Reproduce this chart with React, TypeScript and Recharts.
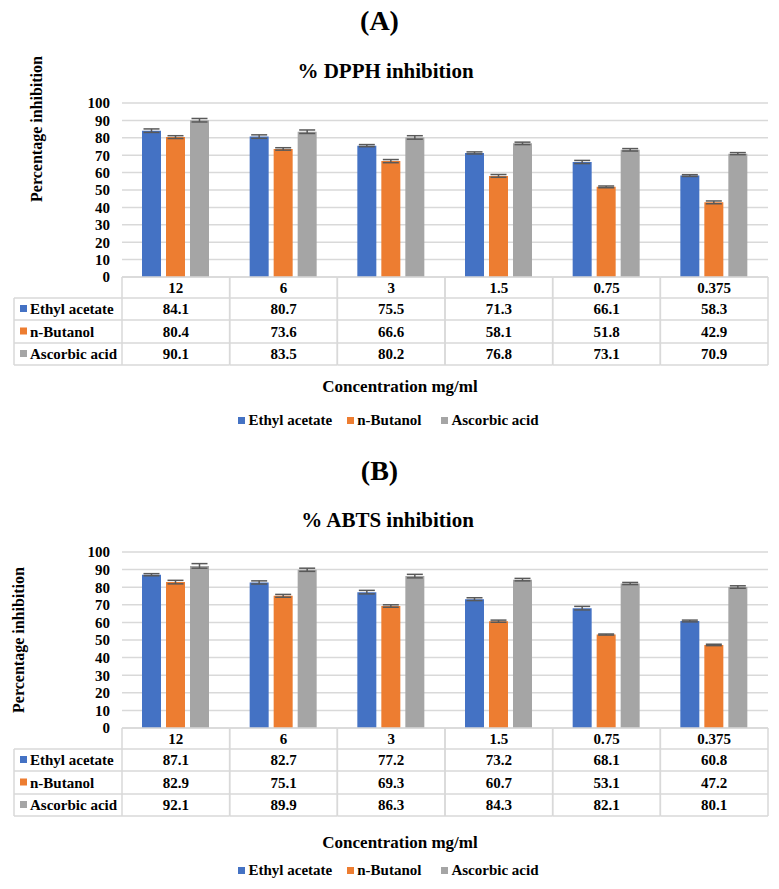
import { BarChart, Bar, XAxis, YAxis, CartesianGrid, Legend, ErrorBar } from "recharts";

const concentrations = ["12", "6", "3", "1.5", "0.75", "0.375"];
const seriesNames = ["Ethyl acetate", "n-Butanol", "Ascorbic acid"];
const seriesColors = ["#4472C4", "#ED7D31", "#A5A5A5"];
const yTicks = [0, 10, 20, 30, 40, 50, 60, 70, 80, 90, 100];

// % DPPH inhibition
const dpphEthyl = [84.1, 80.7, 75.5, 71.3, 66.1, 58.3];
const dpphButanol = [80.4, 73.6, 66.6, 58.1, 51.8, 42.9];
const dpphAscorbic = [90.1, 83.5, 80.2, 76.8, 73.1, 70.9];
const dpphEthylErr = [1.0, 1.0, 0.6, 0.6, 0.9, 0.5];
const dpphButanolErr = [0.8, 0.7, 0.9, 0.8, 0.5, 0.8];
const dpphAscorbicErr = [1.0, 1.0, 1.0, 0.7, 0.7, 0.6];

// % ABTS inhibition
const abtsEthyl = [87.1, 82.7, 77.2, 73.2, 68.1, 60.8];
const abtsButanol = [82.9, 75.1, 69.3, 60.7, 53.1, 47.2];
const abtsAscorbic = [92.1, 89.9, 86.3, 84.3, 82.1, 80.1];
const abtsEthylErr = [0.6, 0.9, 1.0, 0.8, 1.0, 0.5];
const abtsButanolErr = [1.0, 0.8, 0.7, 0.6, 0.3, 0.4];
const abtsAscorbicErr = [1.3, 0.9, 1.0, 0.7, 0.6, 0.7];

const FONT = "Liberation Serif";
const W = 779;
const TABLE_LEFT = 14;
const Y_AXIS_W = 108;
const MARGIN_RIGHT = 11;
const COL_W = (W - TABLE_LEFT - Y_AXIS_W - MARGIN_RIGHT) / concentrations.length;
const ROWS = [0, 21, 43, 66, 88];
const LINE = "#D9D9D9";

function buildData(a: number[], b: number[], c: number[], ea: number[], eb: number[], ec: number[]) {
    return concentrations.map((name, i) => ({
        name,
        ethyl: a[i],
        butanol: b[i],
        ascorbic: c[i],
        ethylErr: ea[i],
        butanolErr: eb[i],
        ascorbicErr: ec[i],
    }));
}

const textProps = { fontFamily: FONT, fontWeight: 700, fontSize: 15, fill: "#000" };

// the x axis tick draws one column of the data table under each category
function makeTableTick(values: number[][]) {
    return (props: any) => {
        const { x, y, index, payload } = props;
        const left = x - COL_W / 2;
        const right = x + COL_W / 2;
        const bottom = y + ROWS[4];
        return (
            <g>
                {ROWS.map((r) => (
                    <line key={r} x1={left} x2={right} y1={y + r} y2={y + r} stroke={LINE} strokeWidth={1.5} />
                ))}
                <line x1={left} x2={left} y1={y} y2={bottom} stroke={LINE} strokeWidth={1.5} />
                <line x1={right} x2={right} y1={y} y2={bottom} stroke={LINE} strokeWidth={1.5} />
                <text x={x} y={y + (ROWS[0] + ROWS[1]) / 2} textAnchor="middle" dominantBaseline="central" {...textProps}>
                    {payload.value}
                </text>
                {values.map((vals, k) => (
                    <text key={k} x={x} y={y + (ROWS[k + 1] + ROWS[k + 2]) / 2} textAnchor="middle" dominantBaseline="central" {...textProps}>
                        {vals[index].toFixed(1)}
                    </text>
                ))}
                {index === 0 && (
                    <g>
                        {ROWS.slice(1).map((r) => (
                            <line key={r} x1={TABLE_LEFT} x2={left} y1={y + r} y2={y + r} stroke={LINE} strokeWidth={1.5} />
                        ))}
                        <line x1={TABLE_LEFT} x2={TABLE_LEFT} y1={y + ROWS[1]} y2={bottom} stroke={LINE} strokeWidth={1.5} />
                        {seriesNames.map((s, k) => {
                            const cy = y + (ROWS[k + 1] + ROWS[k + 2]) / 2;
                            return (
                                <g key={s}>
                                    <rect x={20} y={cy - 4} width={7} height={7} fill={seriesColors[k]} />
                                    <text x={30} y={cy} dominantBaseline="central" {...textProps}>
                                        {s}
                                    </text>
                                </g>
                            );
                        })}
                    </g>
                )}
            </g>
        );
    };
}

function LegendBlock({ gap }: { gap: number }) {
    const itemGaps = [15, 20, 0];
    return (
        <div style={{ width: W, fontFamily: FONT, fontWeight: 700, color: "#000" }}>
            <div style={{ height: 22, lineHeight: "22px", fontSize: 17, textAlign: "center", paddingLeft: 21 }}>
                Concentration mg/ml
            </div>
            <div style={{ marginTop: gap, height: 20, lineHeight: "20px", fontSize: 15, display: "flex", justifyContent: "center", paddingRight: 2 }}>
                {seriesNames.map((s, k) => (
                    <span key={s} style={{ display: "flex", alignItems: "center", marginRight: itemGaps[k] }}>
                        <span style={{ width: 7, height: 7, background: seriesColors[k], marginRight: 3, display: "inline-block" }} />
                        {s}
                    </span>
                ))}
            </div>
        </div>
    );
}

function Panel(props: {
    top: number;
    height: number;
    marginTop: number;
    plotH: number;
    data: any[];
    values: number[][];
    labelX: number;
    labelY: number;
    legendTop: number;
    legendGap: number;
}) {
    const { top, height, marginTop, plotH, data, values, labelX, labelY, legendTop, legendGap } = props;
    const marginBottom = height - marginTop - plotH - ROWS[4];
    return (
        <div style={{ position: "absolute", left: 0, top }}>
            <BarChart
                width={W}
                height={height}
                data={data}
                margin={{ top: marginTop, right: MARGIN_RIGHT, left: TABLE_LEFT, bottom: marginBottom }}
                barSize={19}
                barGap={5}
            >
                <CartesianGrid vertical={false} stroke={LINE} strokeWidth={1.5} />
                <XAxis
                    dataKey="name"
                    axisLine={false}
                    tickLine={false}
                    tickSize={0}
                    tickMargin={0}
                    height={ROWS[4]}
                    interval={0}
                    tick={makeTableTick(values)}
                />
                <YAxis
                    width={Y_AXIS_W}
                    domain={[0, 100]}
                    ticks={yTicks}
                    interval={0}
                    axisLine={false}
                    tickLine={false}
                    tickMargin={6}
                    tick={{ fill: "#000", fontSize: 15, fontWeight: 700, fontFamily: FONT }}
                    label={{
                        content: () => (
                            <text
                                x={labelX}
                                y={labelY}
                                transform={`rotate(-90 ${labelX} ${labelY})`}
                                textAnchor="middle"
                                dominantBaseline="central"
                                fontFamily={FONT}
                                fontWeight={700}
                                fontSize={16}
                                fill="#000"
                            >
                                Percentage inhibition
                            </text>
                        ),
                    }}
                />
                <Legend
                    verticalAlign="middle"
                    align="center"
                    layout="horizontal"
                    wrapperStyle={{ top: legendTop, left: 0, width: W }}
                    content={() => <LegendBlock gap={legendGap} />}
                />
                <Bar dataKey="ethyl" name={seriesNames[0]} fill={seriesColors[0]} isAnimationActive={false}>
                    <ErrorBar dataKey="ethylErr" width={8} stroke="#595959" strokeWidth={1.5} direction="y" />
                </Bar>
                <Bar dataKey="butanol" name={seriesNames[1]} fill={seriesColors[1]} isAnimationActive={false}>
                    <ErrorBar dataKey="butanolErr" width={8} stroke="#595959" strokeWidth={1.5} direction="y" />
                </Bar>
                <Bar dataKey="ascorbic" name={seriesNames[2]} fill={seriesColors[2]} isAnimationActive={false}>
                    <ErrorBar dataKey="ascorbicErr" width={8} stroke="#595959" strokeWidth={1.5} direction="y" />
                </Bar>
            </BarChart>
        </div>
    );
}

function Title({ top, text, size, height, shift }: { top: number; text: string; size: number; height: number; shift: number }) {
    return (
        <div
            style={{
                position: "absolute",
                left: shift,
                top,
                width: W,
                height,
                lineHeight: `${height}px`,
                textAlign: "center",
                fontFamily: FONT,
                fontWeight: 700,
                fontSize: size,
                color: "#000",
            }}
        >
            {text}
        </div>
    );
}

export default function App() {
    const dpphData = buildData(dpphEthyl, dpphButanol, dpphAscorbic, dpphEthylErr, dpphButanolErr, dpphAscorbicErr);
    const abtsData = buildData(abtsEthyl, abtsButanol, abtsAscorbic, abtsEthylErr, abtsButanolErr, abtsAscorbicErr);
    return (
        <div style={{ position: "absolute", left: 0, top: 0, width: W, height: 889, background: "#fff", overflow: "hidden" }}>
            <Panel
                top={45}
                height={395}
                marginTop={58}
                plotH={174}
                data={dpphData}
                values={[dpphEthyl, dpphButanol, dpphAscorbic]}
                labelX={36}
                labelY={84}
                legendTop={331}
                legendGap={12}
            />
            <Panel
                top={500}
                height={389}
                marginTop={52}
                plotH={176}
                data={abtsData}
                values={[abtsEthyl, abtsButanol, abtsAscorbic]}
                labelX={18}
                labelY={140}
                legendTop={332}
                legendGap={6}
            />
            <Title top={5} text="(A)" size={28} height={32} shift={-10} />
            <Title top={58} text="% DPPH inhibition" size={21} height={26} shift={-4} />
            <Title top={455} text="(B)" size={28} height={32} shift={-10} />
            <Title top={507} text="% ABTS inhibition" size={21} height={26} shift={-2} />
        </div>
    );
}
